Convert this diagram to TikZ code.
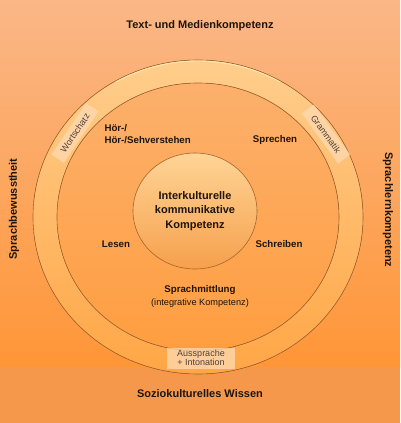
\documentclass[tikz,border=0pt]{standalone}
\usepackage{fontspec}
\setmainfont{Liberation Sans}
\usetikzlibrary{positioning,shapes.geometric}
\definecolor{bgtop}{RGB}{250,183,135}
\definecolor{bgbot}{RGB}{255,150,55}
\definecolor{bandcol}{RGB}{245,152,75}
\definecolor{ringtop}{RGB}{255,206,140}
\definecolor{ringbot}{RGB}{255,166,70}
\definecolor{innertop}{RGB}{252,176,108}
\definecolor{innerbot}{RGB}{255,158,64}
\definecolor{coretop}{RGB}{255,212,150}
\definecolor{corebot}{RGB}{246,160,76}
\definecolor{edgecol}{RGB}{165,100,45}
\definecolor{hilite}{RGB}{255,240,185}
\definecolor{tagcol}{RGB}{255,218,178}
\definecolor{inkcol}{RGB}{30,20,12}
\tikzset{
  label/.style  = {text=inkcol, font=\bfseries\fontsize{11}{13}\selectfont},
  skill/.style  = {text=inkcol, font=\bfseries\fontsize{9.7}{12}\selectfont},
  tag/.style    = {fill=tagcol, fill opacity=0.75, text opacity=1, text=inkcol!80,
                   font=\fontsize{9}{9.5}\selectfont, inner sep=1pt, align=center},
  edge/.style   = {draw=edgecol, line width=0.6pt},
}
\begin{document}
\begin{tikzpicture}[x=1pt,y=-1pt]
  \useasboundingbox (0,0) rectangle (400,423);
  % background
  \fill[top color=bgtop, bottom color=bgbot] (0,0) rectangle (400,367);
  \fill[bandcol] (0,367) rectangle (400,423);
  % outer ring
  \coordinate (mid) at (198,217);
  \fill[top color=ringtop, bottom color=ringbot, edge] (mid) ellipse [x radius=165, y radius=157];
  \draw[hilite, line width=0.9pt, opacity=0.85] (mid) ++(240:164 and 156)
    arc [start angle=240, end angle=300, x radius=164, y radius=156];
  \fill[top color=innertop, bottom color=innerbot, edge] (mid) ellipse [x radius=141, y radius=134];
  % core
  \node[ellipse, minimum width=124, minimum height=116, top color=coretop, bottom color=corebot,
        edge, align=center, label, font=\bfseries\fontsize{11}{14.5}\selectfont]
        (core) at (195,211) {Interkulturelle\\kommunikative\\Kompetenz};
  % outer labels
  \node[label] (medien) at (200,26) {Text- und Medienkompetenz};
  \node[label, rotate=90] (bewusst) at (14,209) {Sprachbewusstheit};
  \node[label, rotate=-90] (lern) at (388,210) {Sprachlernkompetenz};
  \node[label] (wissen) at (200,394) {Soziokulturelles Wissen};
  % skills
  \node[skill, align=left, anchor=west] (hoeren) at (101,134) {Hör-/\\Hör-/Sehverstehen};
  \node[skill] (sprechen) at (275,140) {Sprechen};
  \node[skill] (lesen) at (116,244) {Lesen};
  \node[skill] (schreiben) at (279,244) {Schreiben};
  \node[skill] (mittlung) at (200,290) {Sprachmittlung};
  \node[text=inkcol, font=\fontsize{9.2}{11}\selectfont, below=0pt of mittlung.south, anchor=north,
        inner sep=1pt] (integrativ) {(integrative Kompetenz)};
  % ring tags
  \node[tag, rotate=56, minimum width=62, minimum height=15] (wortschatz) at (75,133) {Wortschatz};
  \node[tag, rotate=-54, minimum width=62, minimum height=15] (grammatik) at (326,134) {Grammatik};
  \node[tag, minimum width=68, minimum height=21] (aussprache) at (201,358) {Aussprache\\+ Intonation};
\end{tikzpicture}
\end{document}
